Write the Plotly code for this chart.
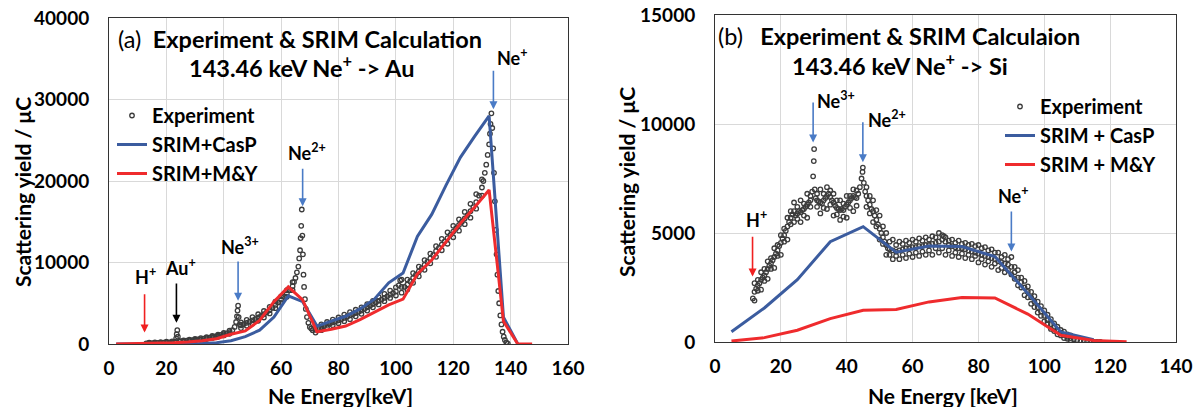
import plotly.graph_objects as go

# ---------------- Panel (a): 143.46 keV Ne+ -> Au ----------------
au_exp_x = [13, 14, 15, 16, 17, 18, 19, 20, 21, 22, 23, 23.4, 23.6, 23.8, 24.0, 24.5, 25, 26, 27, 28, 29, 30,
            31, 32, 33, 34, 35, 36, 37, 38, 39, 40, 41, 42, 43, 43.8, 44.3, 44.6, 44.8, 45.0, 45.2, 45.6, 46,
            47, 48, 49, 50, 51, 52, 53, 54, 55, 56, 57, 58, 59, 60, 61, 62, 63, 64, 64.5, 65, 65.5, 66, 66.3,
            66.6, 66.8, 67.0, 67.2, 67.4, 67.6, 67.8, 68.0, 68.3, 68.6, 69, 69.5, 70, 70.5, 71, 72, 73, 74, 75,
            76, 77, 78, 79, 80, 81, 82, 83, 84, 85, 86, 87, 88, 89, 90, 91, 92, 93, 94, 95, 96, 97, 98, 99,
            100, 101, 101.5, 102, 103, 104, 105, 106, 107, 108, 109, 110, 111, 112, 113, 114, 115, 116, 117,
            118, 119, 120, 121, 122, 123, 124, 125, 126, 127, 128, 129, 130, 130.5, 131, 131.5, 132, 132.5,
            132.8, 133.0, 133.3, 133.6, 133.9, 134.2, 134.5, 134.8, 135.1, 135.4, 135.7, 136.0, 136.4, 136.8,
            137.2, 137.6, 138.0, 138.5, 139]
au_exp_y = [80, 100, 110, 120, 140, 150, 170, 190, 210, 240, 280, 700, 1200, 1700, 900, 320, 340, 370, 400, 440,
            480, 520, 560, 610, 660, 720, 790, 860, 940, 1020, 1110, 1200, 1300, 1450, 1700, 2100, 2700, 3400,
            4100, 4700, 3300, 2400, 2300, 2450, 2600, 2750, 2900, 3050, 3250, 3450, 3650, 3900, 4150, 4450,
            4800, 5100, 5450, 5800, 6200, 6600, 7100, 7600, 8100, 8800, 9500, 10500, 11500, 13000, 14500,
            16500, 13300, 11000, 8500, 7000, 5500, 4300, 3300, 2600, 2100, 1900, 1700, 1750, 1900, 2050, 2200,
            2350, 2500, 2650, 2780, 2900, 3050, 3200, 3350, 3500, 3650, 3800, 3950, 4100, 4300, 4500, 4700,
            4900, 5100, 5300, 5450, 5650, 5850, 6050, 6250, 6450, 7200, 7800, 7000, 7000, 7300, 7700, 8100,
            8500, 8900, 9300, 9700, 10100, 10500, 10900, 11400, 11800, 12200, 12600, 13000, 13400, 13800,
            14200, 14600, 15000, 15400, 15800, 16300, 16800, 17400, 18200, 19200, 20000, 21000, 22000, 23200,
            24500, 25800, 27000, 28300, 26500, 24000, 21000, 17500, 14000, 11000, 8500, 6500, 5000, 3500, 2400,
            1500, 900, 500, 200, 50]
# upper / lower edges of the scattered experimental band
au_band_x = [14, 16, 18, 20, 22, 26, 28, 30, 32, 34, 36, 38, 40, 42, 46, 48, 50, 52, 54, 56, 58, 60, 62, 64,
             72, 74, 76, 78, 80, 82, 84, 86, 88, 90, 92, 94, 96, 98, 100, 102, 104, 106, 108, 110, 112, 114,
             116, 118, 120, 122, 124, 126, 128, 130]
au_band_hi = [180, 200, 240, 280, 330, 450, 520, 620, 720, 830, 980, 1150, 1350, 1650, 2650, 2950, 3300, 3650,
              4050, 4550, 5200, 5850, 6600, 7600, 2100, 2400, 2700, 3000, 3250, 3600, 3900, 4200, 4500, 4900,
              5300, 5750, 6150, 6550, 6950, 7900, 7900, 8700, 9500, 10300, 11100, 12000, 12900, 13700, 14500,
              15300, 16200, 17200, 18400, 20200]
au_band_lo = [40, 60, 80, 110, 160, 290, 360, 430, 510, 610, 740, 890, 1050, 1250, 1950, 2250, 2500, 2850, 3250,
              3750, 4400, 5050, 5800, 6600, 1400, 1700, 2000, 2300, 2550, 2800, 3050, 3400, 3700, 4100, 4500,
              4850, 5250, 5650, 5950, 6300, 6700, 7500, 8300, 9100, 9900, 10700, 11500, 12300, 13100, 13900,
              14700, 15500, 16600, 18200]

au_calc_x = [2.5, 7.5, 12.5, 17.5, 22.5, 27.5, 32.5, 37.5, 42.5, 47.5, 52.5, 57.5, 62.5, 67.5, 72.5, 77.5,
             82.5, 87.5, 92.5, 97.5, 102.5, 107.5, 112.5, 117.5, 122.5, 127.5, 132.5, 137.5, 142.5, 147.5]
au_casp_y = [0, 0, 0, 0, 0, 20, 60, 160, 400, 900, 1700, 3300, 5900, 5200, 2200, 2800, 3400, 4300, 5500, 7500,
             8700, 13200, 15900, 19500, 22900, 25500, 28000, 3300, 0, None]
au_my_y = [0, 20, 50, 90, 150, 250, 400, 650, 1200, 1600, 2900, 5200, 7000, 5400, 1500, 1800, 2200, 3000, 3900,
           4800, 5500, 8600, 10300, 12500, 14800, 16800, 18900, 2800, 0, 0]

# ---------------- Panel (b): 143.46 keV Ne+ -> Si ----------------
si_exp_x = [11.5, 12, 12.5, 13, 13.5, 14, 14.5, 15, 15.5, 16, 16.5, 17, 17.5, 18, 18.5, 19, 19.5, 20, 20.5, 21,
            21.5, 22, 22.5, 23, 23.5, 24, 24.5, 25, 25.5, 26, 26.5, 27, 27.5, 28, 28.5, 29, 29.5, 29.8, 30.0,
            30.1, 30.3, 30.6, 31, 31.5, 32, 32.5, 33, 33.5, 34, 34.5, 35, 35.5, 36, 36.5, 37, 37.5, 38, 38.5,
            39, 39.5, 40, 40.5, 41, 41.5, 42, 42.5, 43, 43.5, 44, 44.5, 44.8, 44.9, 45.2, 45.6, 46, 46.5, 47,
            47.5, 48, 48.5, 49, 49.5, 50, 50.5, 51, 51.5, 52, 52.5, 53, 54, 55, 56, 57, 58, 59, 60, 61, 62, 63,
            64, 65, 66, 67, 68, 69, 69.5, 70, 71, 72, 73, 74, 75, 76, 77, 78, 79, 80, 81, 82, 83, 84, 85, 86,
            87, 88, 89, 90, 91, 92, 93, 94, 95, 96, 97, 98, 99, 100, 101, 102, 103, 104, 105, 106, 107, 108,
            109, 110, 111, 112, 113, 114, 115, 116, 117]
si_exp_y = [2000, 2300, 2450, 2600, 2700, 2850, 2950, 3050, 3200, 3350, 3500, 3600, 3750, 3900, 4050, 4200, 4400,
            4550, 4750, 4900, 5100, 5300, 5500, 5700, 5850, 6000, 5800, 5900, 6000, 5950, 6050, 6100, 6200, 6300,
            6400, 6500, 6900, 7600, 8300, 8850, 7000, 6600, 6500, 6450, 6400, 6350, 6500, 6600, 6700, 6800, 6650,
            6500, 6400, 6250, 6150, 6100, 6050, 6100, 6050, 6200, 6300, 6400, 6500, 6600, 6700, 6650, 6600, 6800,
            7100, 7500, 7800, 8000, 7300, 6900, 6700, 6500, 6300, 6100, 6000, 5800, 5600, 5400, 5200, 5000, 4800,
            4600, 4450, 4300, 4250, 4200, 4150, 4200, 4250, 4300, 4300, 4350, 4350, 4400, 4400, 4450, 4450, 4500,
            4550, 4600, 4700, 4850, 4600, 4450, 4400, 4350, 4300, 4300, 4250, 4200, 4150, 4100, 4050, 4000, 3950,
            3900, 3850, 3800, 3700, 3650, 3600, 3550, 3450, 3200, 2950, 2750, 2500, 2300, 2050, 1850, 1600, 1400,
            1200, 1000, 820, 680, 540, 420, 320, 240, 180, 130, 90, 60, 40, 20, 10, 5, 0, 0]
si_band_x = [12, 14, 16, 18, 20, 22, 24, 26, 28, 32, 34, 36, 38, 40, 42, 46, 48, 50, 52, 54, 56, 58, 60, 62, 64,
             66, 68, 70, 72, 74, 76, 78, 80, 82, 84, 86, 88, 90, 92, 94, 96, 98, 100, 102, 104, 106, 108]
si_band_hi = [2700, 3200, 3700, 4300, 4900, 5700, 6400, 6500, 6800, 7000, 7100, 6800, 6500, 6700, 7000, 7100,
              6500, 5800, 5000, 4700, 4600, 4650, 4700, 4750, 4800, 4850, 5000, 4800, 4700, 4650, 4550, 4500,
              4450, 4350, 4250, 4100, 4000, 3900, 3300, 2800, 2300, 1850, 1450, 1050, 700, 480, 300]
si_band_lo = [1900, 2400, 2900, 3400, 4000, 4700, 5500, 5500, 5700, 5900, 6100, 5800, 5600, 5700, 6000, 6200,
              5500, 4700, 4000, 3800, 3800, 3850, 3900, 3950, 4000, 4000, 4100, 4000, 3950, 3900, 3850, 3800,
              3650, 3550, 3450, 3300, 3200, 3100, 2600, 2150, 1750, 1350, 950, 600, 350, 180, 80]
# inner band points at odd energies
si_band2_x = [13, 15, 17, 19, 21, 23, 25, 27, 29, 31, 33, 35, 37, 39, 41, 43, 47, 49, 51, 53, 55, 57, 59, 61, 63,
              65, 67, 69, 71, 73, 75, 77, 79, 81, 83, 85, 87, 89, 91, 93, 95, 97, 99, 101, 103, 105, 107]
si_band2_hi = [2850, 3350, 3850, 4450, 5200, 6000, 6200, 6350, 6700, 6800, 6800, 6950, 6500, 6350, 6700, 6950,
               6700, 6050, 5300, 4600, 4450, 4500, 4550, 4600, 4650, 4700, 4800, 4900, 4650, 4550, 4500, 4450,
               4400, 4300, 4200, 4100, 3900, 3800, 3450, 2950, 2550, 2100, 1650, 1250, 850, 550, 350]
si_band2_lo = [2350, 2800, 3350, 3950, 4600, 5400, 5650, 5800, 6200, 6200, 6150, 6300, 5850, 5750, 6150, 6250,
               5900, 5300, 4500, 4000, 3950, 4000, 4050, 4100, 4150, 4200, 4300, 4300, 4200, 4100, 4050, 4000,
               3950, 3800, 3700, 3600, 3400, 3300, 2900, 2500, 2050, 1600, 1200, 850, 500, 300, 150]

si_casp_x = [5, 15, 25, 35, 45, 55, 65, 75, 85, 95, 105, 115]
si_casp_y = [470, 1560, 2860, 4600, 5290, 4120, 4400, 4380, 3920, 2230, 460, 100]
si_my_x = [5, 15, 25, 35, 45, 55, 65, 75, 85, 95, 105, 115, 125]
si_my_y = [46, 200, 540, 1070, 1455, 1490, 1840, 2040, 2020, 1280, 310, 70, 15]

FONT = "Lato, Calibri, Carlito, 'Open Sans', sans-serif"
BLUE = "#3B5C9F"
RED = "#EF2B2D"
ARROW_BLUE = "#4A7BC6"
ARROW_RED = "#F02020"
GRAY = "#3C3C3C"

fig = go.Figure()

def exp_trace(xs, ys, xa, ya, lg):
    return go.Scatter(x=xs, y=ys, mode="markers", name="Experiment", xaxis=xa, yaxis=ya, legend=lg,
                      legendgroup=lg + "e",
                      marker=dict(symbol="circle-open", size=4.5, color=GRAY, line=dict(width=1.3, color=GRAY)))

def line_trace(x, y, name, color, xa, ya, lg, grp):
    return go.Scatter(x=x, y=y, mode="lines", name=name, xaxis=xa, yaxis=ya, legend=lg, legendgroup=lg + grp,
                      line=dict(color=color, width=3), connectgaps=False)

au_all_x = au_exp_x + au_band_x + au_band_x
au_all_y = au_exp_y + au_band_hi + au_band_lo
si_all_x = si_exp_x + si_band_x + si_band_x + si_band2_x + si_band2_x
si_all_y = si_exp_y + si_band_hi + si_band_lo + si_band2_hi + si_band2_lo

fig.add_trace(exp_trace(au_all_x, au_all_y, "x", "y", "legend"))
fig.add_trace(line_trace(au_calc_x, au_casp_y, "SRIM+CasP", BLUE, "x", "y", "legend", "c"))
fig.add_trace(line_trace(au_calc_x, au_my_y, "SRIM+M&Y", RED, "x", "y", "legend", "m"))

fig.add_trace(exp_trace(si_all_x, si_all_y, "x2", "y2", "legend2"))
fig.add_trace(line_trace(si_casp_x, si_casp_y, "SRIM + CasP", BLUE, "x2", "y2", "legend2", "c"))
fig.add_trace(line_trace(si_my_x, si_my_y, "SRIM + M&Y", RED, "x2", "y2", "legend2", "m"))

W, H = 1199, 407
tickfont = dict(family=FONT, size=19, color="black", weight="bold")
axis_common = dict(showgrid=True, gridcolor="#D9D9D9", gridwidth=1, showline=True, mirror=True,
                   linecolor="#333333", linewidth=1, ticks="", zeroline=False, tickfont=tickfont,
                   automargin=False, tickformat="d")
LEGFONT = dict(family=FONT, size=20, color="black", weight="bold")

fig.update_layout(
    width=W, height=H, margin=dict(l=0, r=0, t=0, b=0),
    paper_bgcolor="white", plot_bgcolor="white",
    font=dict(family=FONT, color="black"),
    xaxis=dict(domain=[109 / W, 568 / W], range=[0, 160], dtick=20, anchor="y", ticklabelstandoff=7,
               **axis_common),
    yaxis=dict(domain=[63 / H, 389 / H], range=[0, 40000], dtick=10000, anchor="x", ticklabelstandoff=15,
               **axis_common),
    xaxis2=dict(domain=[715 / W, 1176 / W], range=[0, 140], dtick=20, anchor="y2", ticklabelstandoff=7,
                **axis_common),
    yaxis2=dict(domain=[65 / H, 392 / H], range=[0, 15000], dtick=5000, anchor="x2", ticklabelstandoff=15,
                **axis_common),
    legend=dict(x=112 / W, y=1 - 96 / H, xanchor="left", yanchor="top", bgcolor="rgba(0,0,0,0)",
                font=LEGFONT, itemwidth=30, tracegroupgap=0),
    legend2=dict(x=1000 / W, y=1 - 87 / H, xanchor="left", yanchor="top", bgcolor="rgba(0,0,0,0)",
                 font=LEGFONT, itemwidth=30, tracegroupgap=0),
    showlegend=True,
)

ann = []
def label(text, x, y, xr, yr, size=18, xanchor="center"):
    ann.append(dict(text=text, x=x, y=y, xref=xr, yref=yr, showarrow=False, xanchor=xanchor, yanchor="middle",
                    font=dict(family=FONT, size=size, color="black", weight="bold")))

def arrow(x, y_tail, y_head, xr, yr, color):
    ann.append(dict(text="", x=x, y=y_head, ax=x, ay=y_tail, xref=xr, yref=yr, axref=xr, ayref=yr,
                    showarrow=True, arrowhead=2, arrowsize=1.0, arrowwidth=1.6, arrowcolor=color,
                    standoff=0, startstandoff=0))

TS = 23.5
# Titles
ann.append(dict(text="<span style='font-weight:normal'>(a)</span>  Experiment & SRIM Calculation",
                x=2.4, y=37400, xref="x", yref="y", showarrow=False, xanchor="left", yanchor="middle",
                font=dict(family=FONT, size=TS, color="black", weight="bold")))
label("143.46 keV Ne<sup>+</sup> -> Au", 67, 34000, "x", "y", size=TS)
ann.append(dict(text="<span style='font-weight:normal'>(b)</span>   Experiment & SRIM Calculaion",
                x=0.3, y=14050, xref="x2", yref="y2", showarrow=False, xanchor="left", yanchor="middle",
                font=dict(family=FONT, size=TS, color="black", weight="bold")))
label("143.46 keV Ne<sup>+</sup> -> Si", 56.2, 12750, "x2", "y2", size=TS)

# Panel (a) markers
arrow(12.4, 6300, 1400, "x", "y", ARROW_RED)
label("H<sup>+</sup>", 12.8, 8300, "x", "y")
arrow(23.5, 7600, 2600, "x", "y", "black")
label("Au<sup>+</sup>", 25.0, 9500, "x", "y")
arrow(45.0, 10300, 5300, "x", "y", ARROW_BLUE)
label("Ne<sup>3+</sup>", 45.8, 12000, "x", "y")
arrow(67.5, 21700, 16900, "x", "y", ARROW_BLUE)
label("Ne<sup>2+</sup>", 69.0, 23500, "x", "y")
arrow(134.0, 33700, 28800, "x", "y", ARROW_BLUE)
label("Ne<sup>+</sup>", 140.5, 35200, "x", "y")

# Panel (b) markers
arrow(11.4, 4900, 3000, "x2", "y2", ARROW_RED)
label("H<sup>+</sup>", 12.6, 5650, "x2", "y2")
arrow(29.8, 11050, 9150, "x2", "y2", ARROW_BLUE)
label("Ne<sup>3+</sup>", 30.5, 11100, "x2", "y2", xanchor="left")
arrow(44.9, 10150, 8250, "x2", "y2", ARROW_BLUE)
label("Ne<sup>2+</sup>", 46.0, 10250, "x2", "y2", xanchor="left")
arrow(90.0, 6050, 4150, "x2", "y2", ARROW_BLUE)
label("Ne<sup>+</sup>", 90.5, 6750, "x2", "y2")

# Axis titles
def axtitle(text, x_px, y_px, angle=0):
    ann.append(dict(text=text, x=x_px / W, y=1 - y_px / H, xref="paper", yref="paper", showarrow=False,
                    xanchor="center", yanchor="middle", textangle=angle,
                    font=dict(family=FONT, size=21, color="black", weight="bold")))

axtitle("Scattering yield / μC", 22, 192, -90)
axtitle("Ne Energy[keV]", 340, 395)
axtitle("Scattering yield / μC", 626, 182, -90)
axtitle("Ne Energy [keV]", 943, 395)

fig.update_layout(annotations=ann)
fig.write_html("out.html", post_script="document.body.style.margin='0px';",
               config={"displayModeBar": False})
